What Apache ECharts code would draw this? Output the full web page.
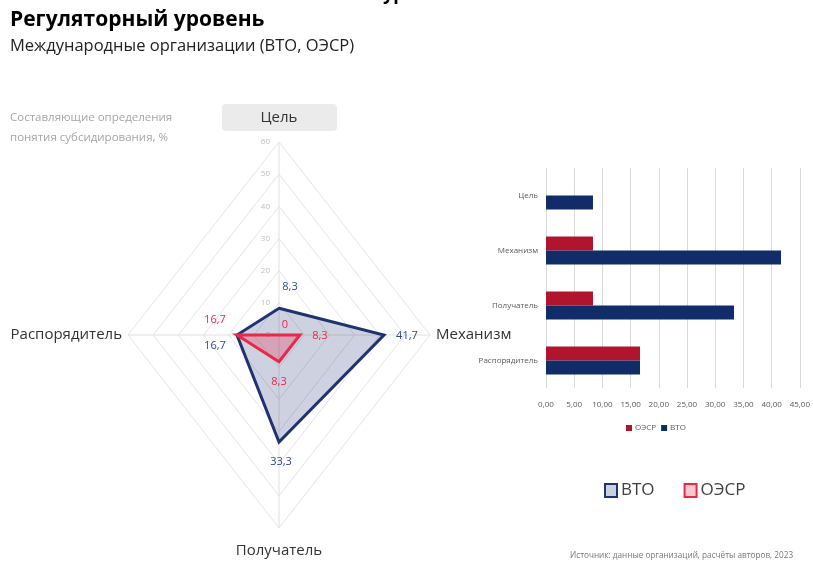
<!DOCTYPE html>
<html>
<head>
<meta charset="utf-8">
<style>
  html, body { margin: 0; padding: 0; background: #fff; }
  #chart { width: 813px; height: 562px; }
</style>
<script src="https://cdn.jsdelivr.net/npm/echarts@6/dist/echarts.min.js"></script>
</head>
<body>
<div id="chart"></div>
<script>
// radar: axis names clockwise from top
const indicators = ['Цель', 'Механизм', 'Получатель', 'Распорядитель']
const wtoValues = [8.3, 41.7, 33.3, 16.7]
const oecdValues = [0, 8.3, 8.3, 16.7]
const radarTicks = [0, 10, 20, 30, 40, 50, 60]

// bar chart
const barCategories = ['Цель', 'Механизм', 'Получатель', 'Распорядитель']
const barWto = [8.33, 41.67, 33.33, 16.67]
const barOecd = [0, 8.33, 8.33, 16.67]
const barTicks = [0, 5, 10, 15, 20, 25, 30, 35, 40, 45]

const FONT = 'Open Sans'
const WTO_LINE = '#1f3370'
const OECD_LINE = '#e8294a'
const WTO_BAR = '#102d69'
const OECD_BAR = '#b0142f'

const radarMax = radarTicks[radarTicks.length - 1]
const dirs = [[0, 1], [1, 0], [0, -1], [-1, 0]]
const fmt = v => (v === 0 ? '0' : v.toFixed(1).replace('.', ','))

// label offsets (px) from each vertex
const wtoOffsets = [[11, -21], [23, 1], [2, 20], [-22, 11]]
const oecdOffsets = [[6, -10], [20, 1], [0, 20], [-22, -15]]

const chart = echarts.init(document.getElementById('chart'))

const polygonSeries = (name, values, line, fill, labelColor, offsets, z) => ({
  name,
  type: 'custom',
  xAxisIndex: 0,
  yAxisIndex: 0,
  z,
  data: [values],
  renderItem: (params, api) => {
    const pts = dirs.map((d, i) => api.coord([d[0] * api.value(i), d[1] * api.value(i)]))
    const children = [{
      type: 'polygon',
      shape: { points: pts },
      style: { fill, stroke: line, lineWidth: 3, lineJoin: 'miter' }
    }]
    pts.forEach((p, i) => {
      children.push({
        type: 'text',
        z2: 10,
        style: {
          text: fmt(api.value(i)),
          x: p[0] + offsets[i][0],
          y: p[1] + offsets[i][1],
          align: 'center',
          verticalAlign: 'middle',
          fill: labelColor,
          font: '11px "' + FONT + '"'
        }
      })
    })
    return { type: 'group', children }
  }
})

const option = {
  animation: false,
  textStyle: { fontFamily: FONT },
  grid: [
    { left: 128, top: 142, width: 302, height: 386 },
    { left: 546, top: 168, width: 257, height: 220 }
  ],
  xAxis: [
    { gridIndex: 0, type: 'value', min: -radarMax, max: radarMax, show: false },
    {
      gridIndex: 1, type: 'value', min: 0, max: 45, interval: 5,
      axisLine: { show: false },
      axisTick: { show: false },
      splitLine: { lineStyle: { color: '#d9d9d9' } },
      axisLabel: {
        color: '#595959', fontSize: 8, margin: 13,
        formatter: v => v.toFixed(2).replace('.', ',')
      }
    }
  ],
  yAxis: [
    { gridIndex: 0, type: 'value', min: -radarMax, max: radarMax, show: false },
    {
      gridIndex: 1, type: 'category', data: barCategories, inverse: true,
      axisLine: { show: false },
      axisTick: { show: false },
      axisLabel: { color: '#595959', fontSize: 8, margin: 8 }
    }
  ],
  legend: [
    {
      left: 599, top: 477,
      icon: 'rect', itemWidth: 12, itemHeight: 13, itemGap: 29,
      textStyle: { fontSize: 17, color: '#404040', padding: [0, 0, 0, -1] },
      selectedMode: false,
      data: [
        { name: 'ВТО', itemStyle: { color: '#c9d0e0', borderColor: WTO_LINE, borderWidth: 2 } },
        { name: 'ОЭСР', itemStyle: { color: '#f8c8d0', borderColor: OECD_LINE, borderWidth: 2 } }
      ]
    },
    {
      left: 621, top: 419,
      icon: 'rect', itemWidth: 6, itemHeight: 6, itemGap: 5,
      textStyle: { fontSize: 8, color: '#595959', padding: [0, 0, 0, -2] },
      selectedMode: false,
      data: [
        { name: 'ОЭСР', itemStyle: { color: OECD_BAR, borderWidth: 0 } },
        { name: 'ВТО', itemStyle: { color: WTO_BAR, borderWidth: 0 } }
      ]
    }
  ],
  series: [
    {
      // rings, spokes and tick labels
      type: 'custom',
      xAxisIndex: 0,
      yAxisIndex: 0,
      z: 1,
      silent: true,
      data: radarTicks.map(t => [t]),
      renderItem: (params, api) => {
        const r = api.value(0)
        const children = []
        if (r > 0) {
          children.push({
            type: 'polygon',
            shape: { points: dirs.map(d => api.coord([d[0] * r, d[1] * r])) },
            style: { fill: 'none', stroke: '#e4e4e4', lineWidth: 1 }
          })
        }
        if (r === radarMax) {
          const c = api.coord([0, 0])
          dirs.forEach(d => {
            const e = api.coord([d[0] * r, d[1] * r])
            children.push({
              type: 'line',
              shape: { x1: c[0], y1: c[1], x2: e[0], y2: e[1] },
              style: { stroke: '#e0e0e0', lineWidth: 1 }
            })
          })
        }
        const p = api.coord([0, r])
        children.push({
          type: 'text',
          z2: 5,
          style: {
            text: String(r), x: p[0] - 9, y: p[1],
            align: 'right', verticalAlign: 'middle',
            fill: '#bdbdbd', font: '8px "' + FONT + '"'
          }
        })
        return { type: 'group', children }
      }
    },
    {
      // axis names
      type: 'custom',
      xAxisIndex: 0,
      yAxisIndex: 0,
      z: 1,
      silent: true,
      data: indicators.map((n, i) => [i]),
      renderItem: (params, api) => {
        const i = api.value(0)
        const d = dirs[i]
        const p = api.coord([d[0] * radarMax, d[1] * radarMax])
        const font = '15px "' + FONT + '"'
        if (i === 0) {
          return {
            type: 'group',
            children: [
              { type: 'rect', shape: { x: p[0] - 57, y: p[1] - 38, width: 115, height: 27, r: 4 }, style: { fill: '#ebebeb' } },
              { type: 'text', style: { text: indicators[i], x: p[0], y: p[1] - 24, align: 'center', verticalAlign: 'middle', fill: '#333', font } }
            ]
          }
        }
        const pos = {
          1: { x: p[0] + 6, y: p[1], align: 'left' },
          2: { x: p[0], y: p[1] + 23, align: 'center' },
          3: { x: p[0] - 6, y: p[1], align: 'right' }
        }[i]
        return {
          type: 'text',
          style: { text: indicators[i], x: pos.x, y: pos.y, align: pos.align, verticalAlign: 'middle', fill: '#333', font }
        }
      }
    },
    polygonSeries('ВТО', wtoValues, WTO_LINE, 'rgba(31, 51, 112, 0.22)', '#2e4a8a', wtoOffsets, 3),
    polygonSeries('ОЭСР', oecdValues, OECD_LINE, 'rgba(232, 41, 74, 0.28)', OECD_LINE, oecdOffsets, 4),
    {
      name: 'ОЭСР',
      type: 'bar',
      xAxisIndex: 1,
      yAxisIndex: 1,
      data: barOecd,
      barWidth: 14,
      barGap: '0%',
      itemStyle: { color: OECD_BAR }
    },
    {
      name: 'ВТО',
      type: 'bar',
      xAxisIndex: 1,
      yAxisIndex: 1,
      data: barWto,
      barWidth: 14,
      barGap: '0%',
      itemStyle: { color: WTO_BAR }
    }
  ],
  graphic: [
    { type: 'text', left: 383, top: -14, style: { text: 'ур', font: 'bold 18px "' + FONT + '"', fill: '#000' } },
    { type: 'text', left: 10, top: 10, style: { text: 'Регуляторный уровень', font: 'bold 21px "' + FONT + '"', fill: '#000' } },
    { type: 'text', left: 10, top: 38, style: { text: 'Международные организации (ВТО, ОЭСР)', font: '16.5px "' + FONT + '"', fill: '#222' } },
    { type: 'text', left: 10, top: 108, style: { text: 'Составляющие определения\nпонятия субсидирования, %', font: '11.5px "' + FONT + '"', lineHeight: 20, fill: '#a6a6a6' } },
    { type: 'text', left: 570, top: 552, style: { text: 'Источник: данные организаций, расчёты авторов, 2023', font: '8.2px "' + FONT + '"', fill: '#777' } }
  ]
}

chart.setOption(option)
</script>
</body>
</html>
